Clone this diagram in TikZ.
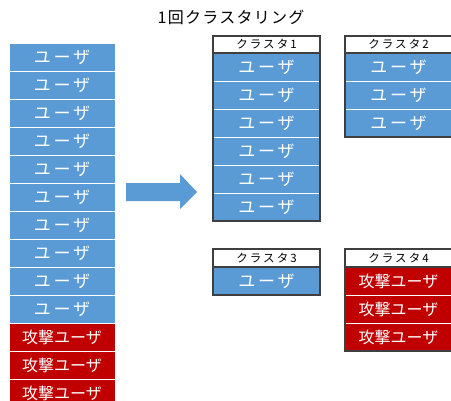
\documentclass[tikz,border=0pt]{standalone}
\usepackage{fontspec}
\newfontfamily\jp{Noto Sans CJK JP}
\newfontfamily\jpu[LetterSpace=16]{Noto Sans CJK JP}
\newfontfamily\jpt[LetterSpace=8]{Noto Sans CJK JP}
\newfontfamily\jph[LetterSpace=18]{Noto Sans CJK JP}
\definecolor{ublue}{HTML}{5B9BD5}
\definecolor{ared}{HTML}{C00000}
\definecolor{bord}{HTML}{3F3F3F}
\begin{document}
\begin{tikzpicture}[x=1pt,y=-1pt,
  cell/.style={draw=white,line width=1pt,minimum width=106pt,minimum height=28pt,inner sep=0pt,text=white},
  usercell/.style={cell,fill=ublue,font=\jpu\fontsize{17}{17}\selectfont},
  atkcell/.style={cell,fill=ared,font=\jp\fontsize{16}{16}\selectfont},
  hdr/.style={draw=bord,line width=1.2pt,fill=white,minimum width=107pt,minimum height=17pt,inner sep=0pt,font=\jph\fontsize{11.5}{11.5}\selectfont},
  frame/.style={draw=bord,line width=1.5pt}]
\useasboundingbox (0,0) rectangle (451,400);
\clip (0,0) rectangle (451,400);
\node[font=\jpt\fontsize{16}{16}\selectfont] (title) at (231,17) {1回クラスタリング};
% left column
\foreach \i in {0,...,9} {
  \node[usercell] (L\i) at (62,57+28*\i) {ユーザ};
}
\foreach \i in {10,11,12} {
  \node[atkcell] (L\i) at (62,57+28*\i) {攻撃ユーザ};
}
% arrow
\fill[ublue] (126,183) -- (180,183) -- (180,174) -- (197,192) -- (180,209) -- (180,201) -- (126,201) -- cycle;
% cluster 1
\node[hdr] (h1) at (266.5,44.5) {クラスタ1};
\foreach \i in {0,...,5} {
  \node[usercell,minimum width=107pt] (a\i) at (266.5,67+28*\i) {ユーザ};
}
\draw[frame] (213,36) rectangle (320,221);
\draw[frame] (h1.south west) -- (h1.south east);
% cluster 2
\node[hdr] (h2) at (398.5,44.5) {クラスタ2};
\foreach \i in {0,...,2} {
  \node[usercell,minimum width=107pt] (b\i) at (398.5,67+28*\i) {ユーザ};
}
\draw[frame] (345,36) rectangle (452,137);
\draw[frame] (h2.south west) -- (h2.south east);
% cluster 3
\node[hdr] (h3) at (266.5,258) {クラスタ3};
\node[usercell,minimum width=107pt] (c0) at (266.5,281) {ユーザ};
\draw[frame] (213,249) rectangle (320,295);
\draw[frame] (h3.south west) -- (h3.south east);
% cluster 4
\node[hdr] (h4) at (398.5,258) {クラスタ4};
\foreach \i in {0,...,2} {
  \node[atkcell,minimum width=107pt] (d\i) at (398.5,281+28*\i) {攻撃ユーザ};
}
\draw[frame] (345,249) rectangle (452,351);
\draw[frame] (h4.south west) -- (h4.south east);
\end{tikzpicture}
\end{document}
